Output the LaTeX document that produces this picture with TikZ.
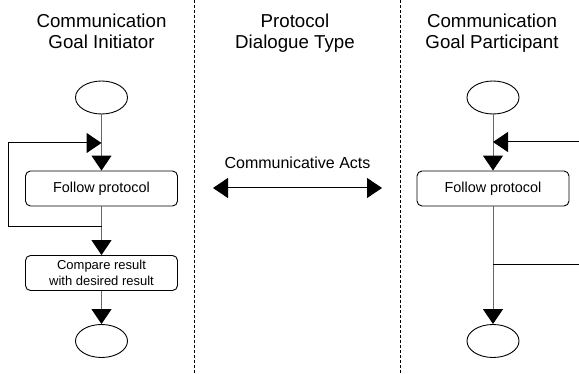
\documentclass[tikz,border=0pt]{standalone}
\usepackage{fontspec}
\setmainfont{Liberation Sans}
\usetikzlibrary{arrows.meta,shapes.geometric}

\tikzset{
  title/.style={align=center, anchor=north, inner sep=0pt,
    font=\fontsize{18.7}{21}\selectfont},
  terminal/.style={draw, ellipse, fill=white, line width=0.9pt,
    minimum width=52pt, minimum height=33pt, inner sep=0pt},
  activity/.style={draw, rounded corners=5pt, fill=white, line width=0.9pt,
    minimum width=152pt, minimum height=35pt, inner sep=0pt, align=center},
  flow/.style={draw=black!60, line width=1pt,
    -{Triangle[length=15pt,width=20pt,black]}},
  feedback/.style={draw=black, line width=1pt},
  divider/.style={draw=black, line width=0.8pt, dash pattern=on 3pt off 2pt},
}

\begin{document}
\begin{tikzpicture}[x=1pt, y=-1pt]
  \path[use as bounding box] (0,0) rectangle (579,374);

  % lane separators
  \draw[divider] (194,0) -- (194,374);
  \draw[divider] (400,0) -- (400,374);

  % lane headings
  \node[title] (hInit) at (101.5,14) {Communication\\Goal Initiator};
  \node[title] (hProt) at (295,14) {Protocol\\Dialogue Type};
  \node[title] (hPart) at (492,14) {Communication\\Goal Participant};

  % initiator lane
  \node[terminal] (iStart) at (101.5,97.5) {};
  \node[activity, font=\fontsize{14.4}{16}\selectfont] (iFollow) at (101.5,188.5) {Follow protocol};
  \node[activity, font=\fontsize{13}{15.3}\selectfont] (iCompare) at (101.5,273) {Compare result\\with desired result};
  \node[terminal] (iEnd) at (101.5,341) {};

  \coordinate (iMerge) at (101.5,143);
  \coordinate (iSplit) at (101.5,227);
  \coordinate (iLoopTop) at (8,143);
  \coordinate (iLoopBot) at (8,227);

  \draw[flow] (iStart) -- (iFollow);
  \draw[flow] (iFollow) -- (iCompare);
  \draw[flow] (iCompare) -- (iEnd);
  \draw[feedback] (iSplit) -- (iLoopBot) -- (iLoopTop);
  \draw[feedback, -{Triangle[length=15pt,width=20pt]}] (iLoopTop) -- (iMerge);

  % protocol lane
  \node[inner sep=0pt, font=\fontsize{16}{18}\selectfont] (acts) at (297.5,163) {Communicative Acts};
  \coordinate (actsL) at (213,188);
  \coordinate (actsR) at (382,188);
  \draw[line width=1pt, {Triangle[length=15pt,width=20pt]}-{Triangle[length=15pt,width=20pt]}] (actsL) -- (actsR);

  % participant lane
  \node[terminal] (pStart) at (493,97.5) {};
  \node[activity, font=\fontsize{14.4}{16}\selectfont] (pFollow) at (493,188.5) {Follow protocol};
  \node[terminal] (pEnd) at (493,341) {};

  \coordinate (pMerge) at (493,142);
  \coordinate (pIn) at (579,142);
  \coordinate (pSplit) at (493,265);
  \coordinate (pOut) at (579,265);

  \draw[flow] (pStart) -- (pFollow);
  \draw[flow] (pFollow) -- (pEnd);
  \draw[feedback, -{Triangle[length=15pt,width=20pt]}] (pIn) -- (pMerge);
  \draw[feedback] (pSplit) -- (pOut);
\end{tikzpicture}
\end{document}
